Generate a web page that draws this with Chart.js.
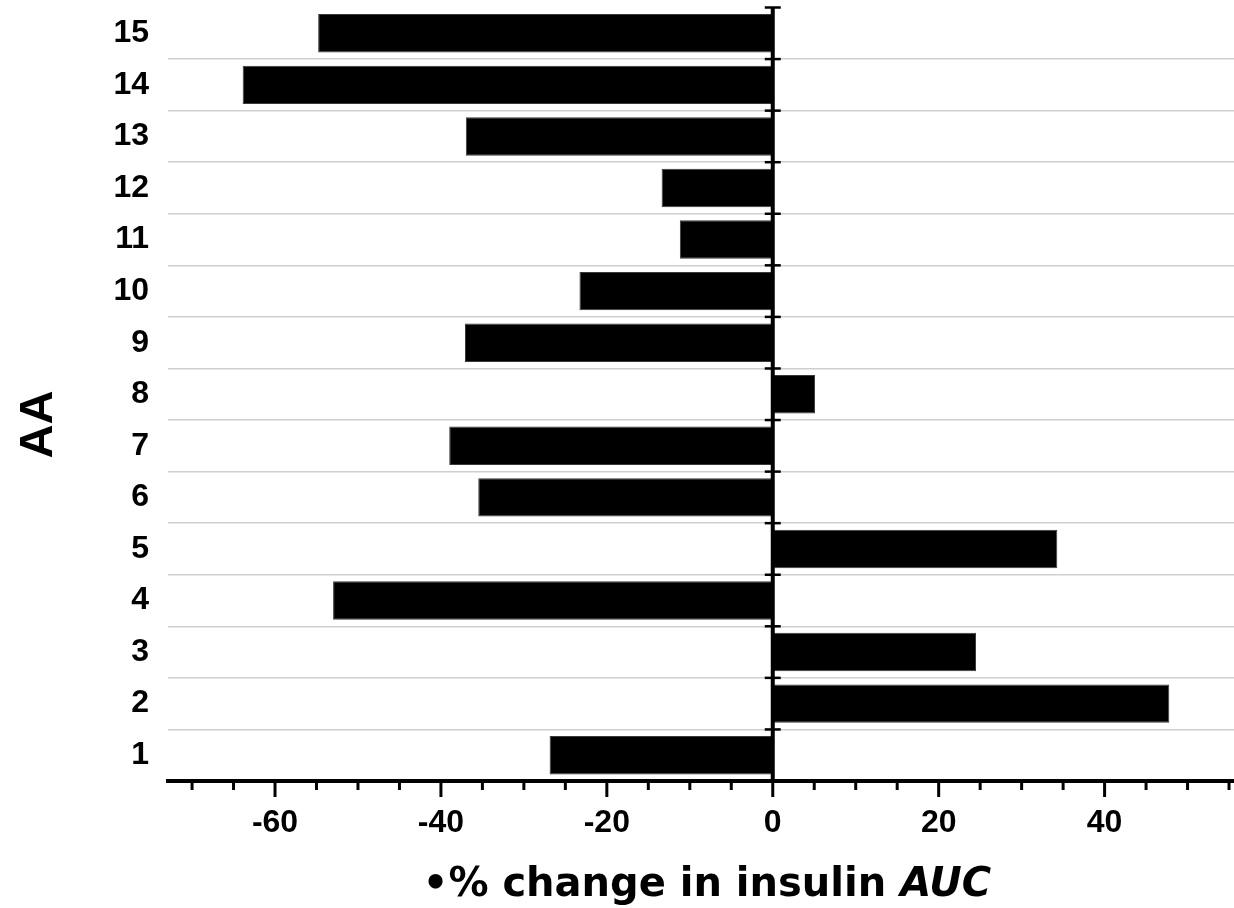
<!DOCTYPE html>
<html>
<head>
<meta charset="utf-8">
<title>% change in insulin AUC by AA</title>
<script src="https://cdn.jsdelivr.net/npm/chart.js@4/dist/chart.umd.min.js"></script>
<style>
    html, body { margin: 0; padding: 0; background: #fff; }
    #wrap { width: 1234px; height: 908px; position: relative; }
</style>
</head>
<body>
<div id="wrap"><canvas id="aucChart"></canvas></div>
<script>
// AA number, drawn bottom (1) to top (15)
const aaLabels = ["1", "2", "3", "4", "5", "6", "7", "8", "9", "10", "11", "12", "13", "14", "15"];
// % change in insulin AUC for each AA
const aucChange = [-26.9, 47.8, 24.5, -53.0, 34.3, -35.5, -39.0, 5.1, -37.1, -23.3, -11.2, -13.4, -37.0, -63.9, -54.8];
// labelled ticks and the small in-between ticks on the x axis
const xTickValues = [-60, -40, -20, 0, 20, 40];
const xMinorTicks = [-70, -65, -60, -55, -50, -45, -40, -35, -30, -25, -20, -15, -10, -5, 0, 5, 10, 15, 20, 25, 30, 35, 40, 45, 50, 55];
const xMin = -72.9;
const xMax = 55.6;

const labelFont = "'Liberation Sans', Arial, sans-serif";
const titleFont = "'Comic Sans MS', 'DejaVu Sans', sans-serif";

// zero line with its ticks, x axis tick marks, axis titles
const axisDecor = {
    id: "axisDecor",
    afterDatasetsDraw(chart) {
        const { ctx, chartArea, scales } = chart;
        const x = scales.x, y = scales.y;
        const x0 = x.getPixelForValue(0);
        ctx.save();
        ctx.strokeStyle = "#000";

        // vertical line at 0
        ctx.lineWidth = 4;
        ctx.beginPath();
        ctx.moveTo(x0, chartArea.top);
        ctx.lineTo(x0, chartArea.bottom);
        ctx.stroke();

        // ticks between categories
        ctx.lineWidth = 2.5;
        for (let i = 0; i <= aaLabels.length; i++) {
            const py = y.getPixelForValue(i - 0.5);
            ctx.beginPath();
            ctx.moveTo(x0 - 8, py);
            ctx.lineTo(x0 + 8, py);
            ctx.stroke();
        }

        // x axis ticks: long ones under the labels
        ctx.lineWidth = 3;
        xMinorTicks.forEach((v) => {
            const px = x.getPixelForValue(v);
            const len = xTickValues.includes(v) ? 16 : 9;
            ctx.beginPath();
            ctx.moveTo(px, chartArea.bottom);
            ctx.lineTo(px, chartArea.bottom + len);
            ctx.stroke();
        });
        ctx.restore();
    },
    afterDraw(chart) {
        const { ctx, chartArea } = chart;
        ctx.save();
        ctx.fillStyle = "#000";

        // y title
        ctx.font = "bold 47px " + labelFont;
        ctx.textAlign = "center";
        ctx.textBaseline = "alphabetic";
        ctx.translate(34.5, 424.5);
        ctx.rotate(-Math.PI / 2);
        ctx.fillText("AA", 0, 17);
        ctx.setTransform(1, 0, 0, 1, 0, 0);

        // x title, AUC in italic
        const part1 = "\u2022% change in insulin ";
        const part2 = "AUC";
        const f1 = "bold 40px " + titleFont;
        const f2 = "italic bold 40px " + titleFont;
        ctx.font = f1;
        const w1 = ctx.measureText(part1).width;
        ctx.font = f2;
        const w2 = ctx.measureText(part2).width;
        const cx = (chartArea.left + chartArea.right) / 2 + 6;
        let tx = cx - (w1 + w2) / 2;
        ctx.textAlign = "left";
        ctx.font = f1;
        ctx.fillText(part1, tx, 896);
        ctx.font = f2;
        ctx.fillText(part2, tx + w1, 896);
        ctx.restore();
    },
};

const ctx = document.getElementById("aucChart").getContext("2d");
const aucChart = new Chart(ctx, {
    type: "bar",
    data: {
        labels: aaLabels,
        datasets: [
            {
                data: aucChange,
                backgroundColor: "#000",
                borderColor: "#3a3a3a",
                borderWidth: 1,
                barPercentage: 0.745,
                categoryPercentage: 1,
            },
        ],
    },
    options: {
        indexAxis: "y",
        responsive: true,
        maintainAspectRatio: false,
        animation: false,
        layout: { padding: { top: 7.5, right: 0, bottom: 0, left: 0 } },
        plugins: {
            legend: { display: false },
            tooltip: { enabled: false },
        },
        scales: {
            x: {
                type: "linear",
                min: xMin,
                max: xMax,
                afterBuildTicks: (scale) => {
                    scale.ticks = xTickValues.map((v) => ({ value: v }));
                },
                afterFit: (scale) => {
                    scale.height = 127;
                    scale.paddingLeft = 0;
                    scale.paddingRight = 0;
                },
                grid: { display: false, drawTicks: false },
                border: { display: true, color: "#000", width: 4 },
                ticks: {
                    color: "#000",
                    font: { family: labelFont, size: 32, weight: "bold" },
                    padding: 23,
                    autoSkip: false,
                    maxRotation: 0,
                },
            },
            y: {
                type: "category",
                reverse: true,
                afterFit: (scale) => {
                    scale.width = 168;
                    scale.paddingTop = 0;
                    scale.paddingBottom = 0;
                },
                grid: {
                    drawTicks: false,
                    lineWidth: 1.5,
                    color: (c) => (c.type === "tick" ? "#cfcfcf" : "rgba(0,0,0,0)"),
                },
                border: { display: false },
                ticks: {
                    color: "#000",
                    font: { family: labelFont, size: 32, weight: "bold" },
                    padding: 19,
                    autoSkip: false,
                },
            },
        },
    },
    plugins: [axisDecor],
});
</script>
</body>
</html>
